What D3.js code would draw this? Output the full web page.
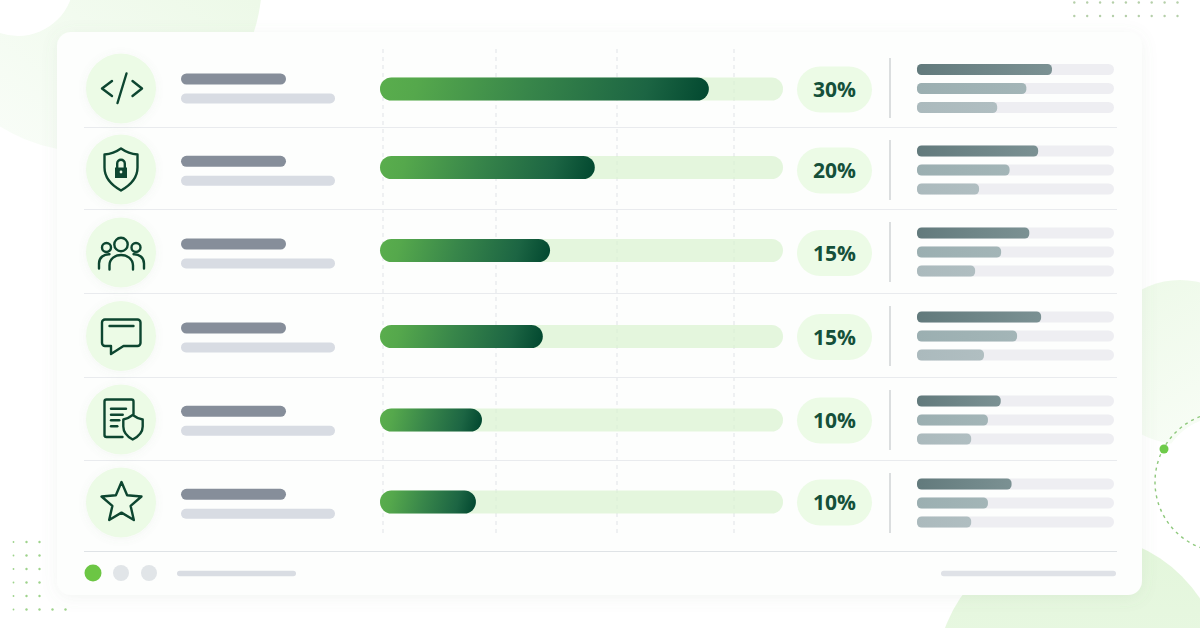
<!DOCTYPE html>
<html><head><meta charset="utf-8">
<script src="https://cdn.jsdelivr.net/npm/d3@7"></script>
<style>html,body{margin:0;padding:0;background:#fff;overflow:hidden}svg{display:block}</style>
</head><body><svg id="c" width="1200" height="628"></svg>
<script>
// ---- data ----
const categories = ["code","security","people","chat","policy","star"];
const shareLabels = ["30%","20%","15%","15%","10%","10%"];
const mainValues = [81.6,53.3,42.2,40.4,25.3,23.8];
const subA = [68.5,61.5,57,63,42.5,48];
const subB = [55.5,47,42.7,50.8,36,36];
const subC = [40.7,31.5,29.5,34,27.5,27.5];
// ---- layout ----
const rowY   = [88.5,169.5,252.5,336,419.5,502.5];
const barY   = [89,167.5,250.5,336.5,420,502];
const pillY  = [89.5,170.5,253,337,420.5,502.5];
const sepY   = [88,170,252,336,420,503];
const labelY = [79,161.3,244,328,411.3,494.3];
const subY   = [69.5,151,233,317,401,484];
const ruleY  = [127.5,209.5,293.5,377.5,460.5,551.5];
const gridX  = [383,496,617,734];

const svg = d3.select("#c");
const defs = svg.append("defs");
const ink = "#0d4630";

const soft = (id,s,o)=>{const f=defs.append("filter").attr("id",id).attr("x","-30%").attr("y","-30%").attr("width","160%").attr("height","160%");
  f.append("feDropShadow").attr("dx",0).attr("dy",s/3).attr("stdDeviation",s).attr("flood-color","#6d8a6d").attr("flood-opacity",o);};
soft("cardS",8,0.09); soft("iconS",4,0.07);

const grad=(id,a,b,c,d,stops)=>{const g=defs.append("linearGradient").attr("id",id).attr("x1",a).attr("y1",b).attr("x2",c).attr("y2",d);
  stops.forEach(s=>g.append("stop").attr("offset",s[0]).attr("stop-color",s[1]));};
grad("blobTL",0.7,0.1,0.1,0.9,[[0,"#eaf8e4"],[0.55,"#f2fbef"],[1,"#f9fdf8"]]);
grad("blobR",0,0,0.6,1,[[0,"#ecf9e7"],[1,"#f8fdf6"]]);
grad("blobB",0.5,0,0.5,1,[[0,"#e3f6db"],[1,"#eefaea"]]);

// ---- backdrop ----
const bg=svg.append("g");
bg.append("circle").attr("cx",90).attr("cy",-20).attr("r",172).attr("fill","url(#blobTL)");
bg.append("circle").attr("cx",18).attr("cy",-20).attr("r",56).attr("fill","#fff");
bg.append("circle").attr("cx",1180).attr("cy",362).attr("r",82).attr("fill","url(#blobR)");
bg.append("circle").attr("cx",1225).attr("cy",482).attr("r",66).attr("fill","#fff");
bg.append("circle").attr("cx",1080).attr("cy",678).attr("r",144).attr("fill","url(#blobB)");
bg.append("circle").attr("cx",1225).attr("cy",482).attr("r",70).attr("fill","none").attr("stroke","#8fc97d").attr("stroke-width",1.4).attr("stroke-dasharray","3 4");
bg.append("circle").attr("cx",1164).attr("cy",449).attr("r",4.5).attr("fill","#6ecb4a");

const dotsBL=d3.cross(d3.range(3),d3.range(6)).concat([[3,5],[4,5]]);
bg.selectAll("circle.dl").data(dotsBL).join("circle").attr("class","dl")
  .attr("cx",d=>13.5+d[0]*13).attr("cy",d=>542+d[1]*13.5).attr("r",d=>d[0]===0?0.9:1.2).attr("fill","#9ed38c");
const dotsTR=d3.cross(d3.range(9),d3.range(2));
bg.selectAll("circle.dr").data(dotsTR).join("circle").attr("class","dr")
  .attr("cx",d=>1074.3+d[0]*12.9).attr("cy",d=>2.5+d[1]*13.5).attr("r",1.2).attr("fill","#b5cfa9");

// ---- card ----
svg.append("rect").attr("x",57).attr("y",32).attr("width",1085).attr("height",563).attr("rx",14)
  .attr("fill","#fdfefd").attr("filter","url(#cardS)");

// ---- scales ----
const x=d3.scaleLinear().domain([0,100]).range([380,783]);
const sx=d3.scaleLinear().domain([0,100]).range([917,1114]);
const rowScale=arr=>d3.scaleOrdinal(categories,arr);
const yRow=rowScale(rowY),yBar=rowScale(barY),yPill=rowScale(pillY),ySep=rowScale(sepY),yLab=rowScale(labelY),ySub=rowScale(subY);
const rows=categories.map((c,i)=>({c,i,label:shareLabels[i],v:mainValues[i],subs:[subA[i],subB[i],subC[i]]}));

// gridlines & rules
svg.append("g").selectAll("line").data(gridX).join("line")
  .attr("x1",d=>d).attr("x2",d=>d).attr("y1",49).attr("y2",534)
  .attr("stroke","#e0e3e7").attr("stroke-width",1).attr("stroke-dasharray","4 4");
svg.append("g").selectAll("line").data(ruleY).join("line")
  .attr("x1",84).attr("x2",1117).attr("y1",d=>d).attr("y2",d=>d)
  .attr("stroke",(d,i)=>i===5?"#dfe3e6":"#e9ebee").attr("stroke-width",1);

// label placeholders
const pill=(g,x0,w,y,h,fill)=>g.append("rect").attr("x",x0).attr("y",y-h/2).attr("width",w).attr("height",h).attr("rx",h/2).attr("fill",fill);
rows.forEach(r=>{
  const g=svg.append("g");
  g.append("circle").attr("cx",121).attr("cy",yRow(r.c)).attr("r",35).attr("fill","#ecfbe6").attr("filter","url(#iconS)");
  pill(g,181,105,yLab(r.c),11,"#868e9a");
  pill(g,181,154,yLab(r.c)+19.4,10,"#d8dce3");
  // main bar
  pill(g,x.range()[0],x.range()[1]-x.range()[0],yBar(r.c),23,"#d9f3d0").attr("fill-opacity",0.72);
  const x1=x(r.v),y0=yBar(r.c),gid="mg"+r.i;
  const lg=defs.append("linearGradient").attr("id",gid).attr("gradientUnits","userSpaceOnUse")
    .attr("x1",x(0)).attr("y1",y0).attr("x2",x1).attr("y2",y0)
    .attr("gradientTransform",`rotate(14 ${(x(0)+x1)/2} ${y0})`);
  [[0,"#5aae4d"],[0.12,"#55a84c"],[0.45,"#38864a"],[0.8,"#1c6543"],[1,"#01472f"]].forEach(s=>lg.append("stop").attr("offset",s[0]).attr("stop-color",s[1]));
  pill(g,x(0),x1-x(0),y0,23,`url(#${gid})`);
  // share pill
  pill(g,797,75,yPill(r.c),46,"#ecfbe6").attr("rx",23);
  g.append("text").attr("x",834.5).attr("y",yPill(r.c)+7.5).attr("text-anchor","middle")
    .attr("font-family","'Open Sans',sans-serif").attr("font-weight",700).attr("font-size",21).attr("fill","#15503a").text(r.label);
  // separator
  g.append("line").attr("x1",890).attr("x2",890).attr("y1",ySep(r.c)-30).attr("y2",ySep(r.c)+30).attr("stroke","#c9cdcf").attr("stroke-width",1.3);
  // sub bars
  const cols=[["#627a7c","#7b9193"],["#9bafb1","#a3b5b7"],["#abbabd","#b0bec1"]];
  r.subs.forEach((v,k)=>{
    const yy=ySub(r.c)+k*19;
    pill(g,sx(0),sx(100)-sx(0),yy,11,"#eeeef2");
    const id=`sg${r.i}_${k}`;
    const sg=defs.append("linearGradient").attr("id",id);
    sg.append("stop").attr("offset",0).attr("stop-color",cols[k][0]);
    sg.append("stop").attr("offset",1).attr("stop-color",cols[k][1]);
    g.append("rect").attr("x",sx(0)).attr("y",yy-5.5).attr("width",sx(v)-sx(0)).attr("height",11).attr("rx",4.5).attr("fill",`url(#${id})`);
  });
});

// ---- icons (local coordinates about each circle centre) ----
const icons={
 code:g=>{g.path("M-9,-7.5 L-19,0 L-9,7.5");g.path("M5.5,-15 L-3.5,14.5");g.path("M11.5,-7.5 L21,0 L11.5,7.5");},
 security:g=>{
  g.path("M0,-21 C-5,-17.5 -11,-15.5 -16.5,-15 L-16.5,-2 C-16.5,9 -8,16.5 0,21 C8,16.5 16.5,9 16.5,-2 L16.5,-15 C11,-15.5 5,-17.5 0,-21Z");
  g.path("M-3.8,-2 L-3.8,-6 A3.8,3.8 0 0 1 3.8,-6 L3.8,-2");
  g.fill("M-6,-2 H6 V8.5 H-6Z");
  g.sel.append("circle").attr("cx",0).attr("cy",2.5).attr("r",1.4).attr("fill","#ecfbe6").attr("stroke","none");
 },
 people:g=>{
  g.circle(0,-8,6.7);g.circle(-14.5,-5,4.5);g.circle(15,-5,4.5);
  g.path("M-11.5,17 L-11.5,13 C-11.5,-1 11.5,-1 12,13 L12,17");
  g.path("M-22,16 L-22,11 C-22,5 -17,1.5 -11.5,1.8");
  g.path("M23,16 L23,11 C23,5 18,1.5 12.5,1.8");
 },
 chat:g=>{
  g.path("M-16,-16.5 H16.5 A3,3 0 0 1 19.5,-13.5 V7 A3,3 0 0 1 16.5,10 H2.5 L-10,18 V10 H-16 A3,3 0 0 1 -19,7 V-13.5 A3,3 0 0 1 -16,-16.5Z");
  g.path("M-11.5,-10 H12.5");
 },
 policy:g=>{
  g.path("M1.5,17.5 H-14.5 A2,2 0 0 1 -16.5,15.5 V-18 A2,2 0 0 1 -14.5,-20 H10.5 A2,2 0 0 1 12.5,-18 V-5.5");
  g.path("M-10,-10.7 H5");g.path("M-10,-4.7 H1.7");g.path("M-10,0.7 H-1.7");g.path("M-10,6.7 H-3.7");
  g.path("M11.7,-4.5 C8.5,-2 5.5,-0.5 2.3,0 L2.3,7 C2.3,13 7,17.5 11.7,20 C16.5,17.5 21.7,13 21.7,7 L21.7,0 C18,-0.5 15,-2 11.7,-4.5Z");
 },
 star:g=>{
  const pts=d3.range(10).map(k=>{const a=-Math.PI/2+k*Math.PI/5,r=k%2?9.6:21;return [0.5+r*Math.cos(a),0.5+r*Math.sin(a)];});
  g.path("M"+pts.map(p=>p.map(n=>n.toFixed(2)).join(",")).join("L")+"Z");
 }
};
rows.forEach(r=>{
  const sel=svg.append("g").attr("transform",`translate(121,${yRow(r.c)})`)
    .attr("fill","none").attr("stroke",ink).attr("stroke-width",2.4).attr("stroke-linecap","round").attr("stroke-linejoin","round");
  icons[r.c]({sel,
    path:d=>sel.append("path").attr("d",d),
    fill:d=>sel.append("path").attr("d",d).attr("fill",ink).attr("stroke","none"),
    circle:(cx,cy,rr)=>sel.append("circle").attr("cx",cx).attr("cy",cy).attr("r",rr)});
});

// ---- footer ----
const foot=svg.append("g");
foot.append("circle").attr("cx",93).attr("cy",573).attr("r",8.5).attr("fill","#6cc644");
foot.append("circle").attr("cx",121).attr("cy",573).attr("r",8).attr("fill","#e1e5e8");
foot.append("circle").attr("cx",149).attr("cy",573).attr("r",8).attr("fill","#e1e5e8");
pill(foot,177,119,573.5,5.5,"#d9dde3");
pill(foot,941,175,573.5,5.5,"#dfe2e7");
</script></body></html>
